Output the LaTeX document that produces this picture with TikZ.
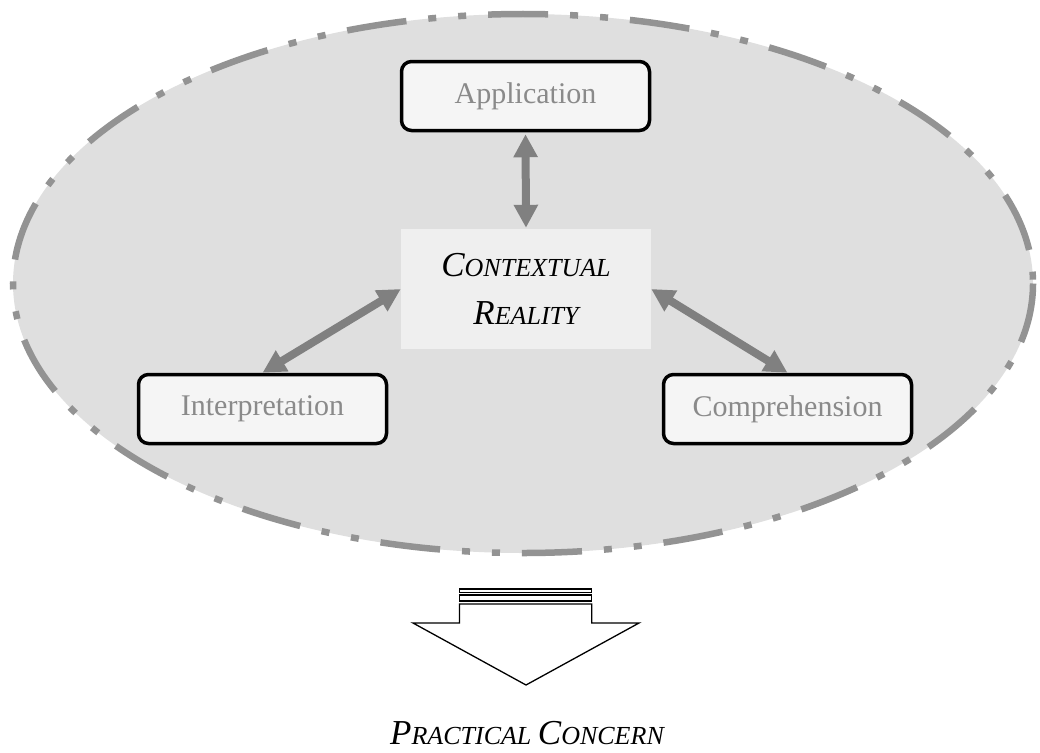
\documentclass[tikz,border=0pt]{standalone}
\usepackage{fontspec}
\setmainfont{Liberation Serif}
\usetikzlibrary{arrows.meta}
\definecolor{ringfill}{HTML}{DFDFDF}
\definecolor{ringline}{HTML}{939393}
\definecolor{boxfill}{HTML}{F5F5F5}
\definecolor{corefill}{HTML}{EFEFEF}
\definecolor{labelgray}{HTML}{8A8A8A}
\definecolor{linkgray}{HTML}{808080}
\newcommand{\bigc}[1]{{\fontsize{35}{40}\selectfont #1}}
\newcommand{\smc}[1]{{\fontsize{26}{30}\selectfont #1}}
\tikzset{
  ring/.style={fill=ringfill, draw=ringline, line width=6.5pt,
    dash pattern=on 60pt off 22pt on 8pt off 22pt on 8pt off 22pt},
  stage/.style={rectangle, rounded corners=10pt, draw=black, line width=3.5pt,
    fill=boxfill, minimum width=248pt, minimum height=69pt, inner sep=0pt,
    text=labelgray, font=\fontsize{30}{34}\selectfont},
  core/.style={rectangle, fill=corefill, minimum width=250pt, minimum height=120pt,
    inner sep=0pt, align=center, font=\itshape},
  link/.style={draw=linkgray, line width=8pt,
    {Triangle[width=23pt,length=23pt]}-{Triangle[width=23pt,length=23pt]}},
  blockarrow/.style={draw=black, line width=1.3pt, fill=white, line join=miter}
}
\begin{document}
\begin{tikzpicture}[x=1pt,y=-1pt]
  \useasboundingbox (0,0) rectangle (1040,752);

  % outer dash-dot-dot ellipse
  \draw[ring] (523,283.5) ellipse [x radius=510, y radius=269.5];

  % central concept
  \node[core] (ctx) at (526,289) {%
    \bigc{C}\smc{ONTEXTUAL}\\[24pt]\bigc{R}\smc{EALITY}};

  % three stages
  \node[stage] (app)    at (525.5,96)  {Application};
  \node[stage] (interp) at (262.5,409) {Interpretation};
  \node[stage] (comp)   at (787.5,409) {Comprehension};

  % two-way links
  \draw[link, shorten <=2pt, shorten >=1pt] (app.south) -- (ctx.north);
  \draw[link] (ctx.west) -- (interp.north);
  \draw[link] (ctx.east) -- (comp.north);

  % striped block arrow pointing down
  \draw[blockarrow] (459.5,589) rectangle (591.7,592.3);
  \draw[blockarrow] (459.5,595) rectangle (591.7,601);
  \draw[blockarrow] (459.5,604) -- (591.7,604) -- (591.7,623) -- (639,623)
    -- (526,685) -- (413,623) -- (459.5,623) -- cycle;

  % outcome label
  \node[font=\itshape] (out) at (527,733) {\bigc{P}\smc{RACTICAL\ }\bigc{C}\smc{ONCERN}};
\end{tikzpicture}
\end{document}
